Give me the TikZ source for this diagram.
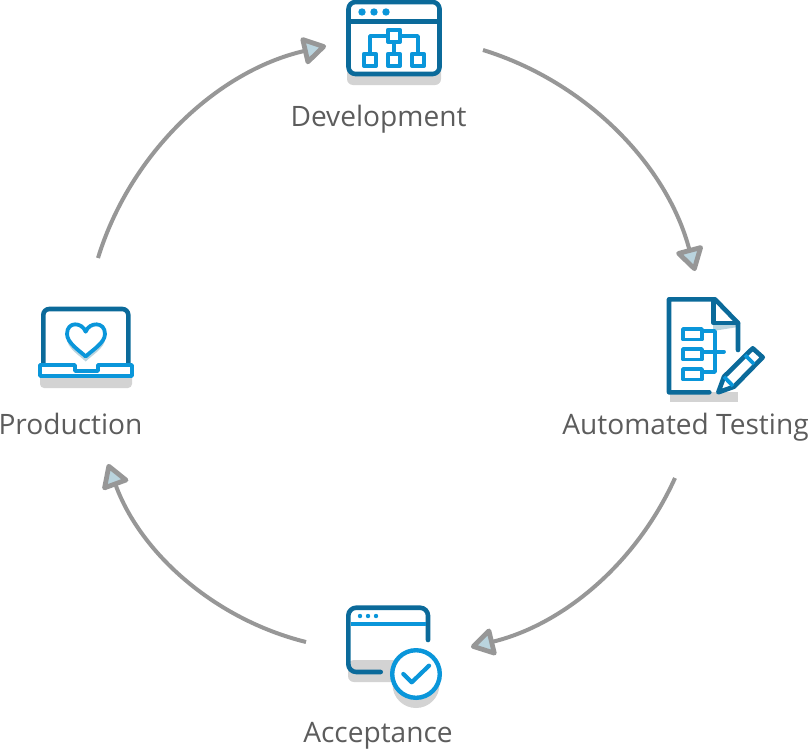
\documentclass[tikz,border=0pt]{standalone}
\usepackage{fontspec}
\setmainfont{Open Sans}
\usetikzlibrary{arrows.meta}
\definecolor{dk}{HTML}{0B6A9A}
\definecolor{lt}{HTML}{0A96DA}
\definecolor{shd}{HTML}{D3D3D3}
\definecolor{pale}{HTML}{BAD4DE}
\definecolor{arc}{HTML}{979797}
\definecolor{txt}{HTML}{5C5C5C}
\tikzset{
  flow/.style={draw=arc,line width=4pt,
    -{Triangle[length=26pt,width=30pt,fill=pale,round,line width=4.8pt,sep=0pt]}},
  label/.style={font=\fontsize{28.1pt}{32pt}\selectfont,text=txt,inner sep=0pt,anchor=base},
  dkline/.style={draw=dk,line width=4.6pt,line cap=round,line join=round},
  ltline/.style={draw=lt,line width=3.8pt,line cap=round,line join=round},
}
\begin{document}
\begin{tikzpicture}[x=1pt,y=-1pt]
\useasboundingbox (0,0) rectangle (810,750);
% Development icon
\fill[shd,rounded corners=6pt] (347,60) rectangle (441,85);
\draw[dkline,fill=white,rounded corners=7pt] (348.5,2) rectangle (439.5,74);
\draw[dkline,line cap=butt] (348.5,21.7) -- (439.5,21.7);
\foreach \x in {362,374,386}{\fill[lt] (\x,12) circle (3.7pt);}
\draw[ltline] (370,52) -- (370,36) -- (418,36) -- (418,52);
\draw[ltline] (394,36) -- (394,52);
\foreach \p in {(394,36),(370,60),(394,60),(418,60)}{
  \draw[ltline,fill=white] \p ++(-6.1,-6.1) rectangle ++(12.2,12.2);}
% Automated testing icon
\fill[shd] (670,392) rectangle (738,402);
\fill[pale] (713,323) -- (738,323) -- (738,327) -- (713,331) -- cycle;
\draw[dkline] (709.3,392.3) -- (669,392.3) -- (669,299.3) -- (715,299.3) -- (738,323) -- (738,350);
\draw[dkline] (713.5,299.3) -- (713.5,323) -- (738,323);
\draw[ltline] (703,331) -- (715,331) -- (715,372) -- (703,372);
\draw[ltline] (703,351.7) -- (724,351.7);
\foreach \y in {329,349,369}{\draw[ltline,fill=white] (683,\y) rectangle ++(19,10.5);}
\draw[dkline,fill=white] (718.3,392.3) -- (724,376.7) -- (752.7,348.3) -- (762.7,357.3) -- (734,386.7) -- cycle;
\draw[ltline,line cap=butt] (724,376.7) -- (733,386);
\draw[ltline,line cap=butt] (745,355) -- (754,364);
% Acceptance icon
\fill[shd,rounded corners=6pt] (348,660) rectangle (410,682);
\fill[shd] (416,684.5) circle (23.5pt);
\draw[dkline,rounded corners=8pt] (428,640) -- (428,607.7) -- (348.3,607.7) -- (348.3,672) -- (380.7,672);
\draw[draw=lt,line width=4pt] (350.5,623.7) -- (426,623.7);
\foreach \x in {360,368,376}{\fill[lt] (\x,616) circle (2.2pt);}
\draw[draw=lt,line width=4.4pt,fill=white] (416,674) circle (23.8pt);
\draw[ltline,line width=4.2pt] (403.3,674) -- (411.7,682.3) -- (429,665.7);
% Production icon
\fill[shd,rounded corners=4pt] (40,370) rectangle (132,388);
\draw[dkline,rounded corners=6pt] (43.3,364) -- (43.3,309) -- (128.3,309) -- (128.3,364);
\fill[pale,shift={(0,5)}] (85.7,331.7) .. controls (82,322) and (67,321) .. (67,334) .. controls (67,343) and (80,351) .. (85.7,356.5) .. controls (91,351) and (105,343) .. (105,334) .. controls (105,321) and (89,322) .. (85.7,331.7) -- cycle;
\draw[ltline,fill=white] (85.7,331.7) .. controls (82,322) and (67,321) .. (67,334) .. controls (67,343) and (80,351) .. (85.7,356.5) .. controls (91,351) and (105,343) .. (105,334) .. controls (105,321) and (89,322) .. (85.7,331.7) -- cycle;
\draw[ltline,fill=white] (40,365) -- (75,365) -- (75,371) -- (98,371) -- (98,365) -- (132,365) -- (132,376) -- (40,376) -- cycle;
% Labels
\node[label] (dev) at (378.5,126) {Development};
\node[label] (test) at (685.5,434) {Automated Testing};
\node[label] (acc) at (378,742) {Acceptance};
\node[label] (prod) at (70.5,434) {Production};
% Arcs
\coordinate (a1s) at (483,50);
\coordinate (a1e) at (695,271);
\coordinate (a2s) at (675,478);
\coordinate (a2e) at (471,647);
\coordinate (a3s) at (306,642);
\coordinate (a3e) at (108,464);
\coordinate (a4s) at (98,258);
\coordinate (a4e) at (326,46);
\draw[flow] (a1s) to[bend left=29,looseness=0.91] (a1e);
\draw[flow] (a2s) to[bend left=26,looseness=0.91] (a2e);
\draw[flow] (a3s) to[bend left=28,looseness=0.91] (a3e);
\draw[flow] (a4s) to[bend left=30,looseness=0.91] (a4e);
\end{tikzpicture}
\end{document}
